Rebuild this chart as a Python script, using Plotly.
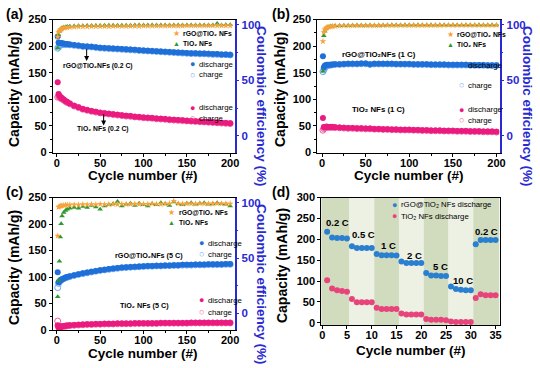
import plotly.graph_objects as go

# ---------------- data ----------------
cyc = [1, 2, 3, 4, 5, 6, 8, 10, 12, 15,
       20, 25, 30, 35, 40, 45, 50, 55, 60, 65,
       70, 75, 80, 85, 90, 95, 100, 105, 110, 115,
       120, 125, 130, 135, 140, 145, 150, 155, 160, 165,
       170, 175, 180, 185, 190, 195, 200]

# (a) 0.2 C
a_rgo_dis = [218, 207, 206, 206, 206, 205, 205, 204, 204, 203,
             202, 201, 200, 199.5, 199, 198, 197, 196.5, 196, 195.5,
             195, 194.5, 194, 193.5, 193, 192.5, 192, 191.5, 191, 190.5,
             190, 189.5, 189, 188.5, 188, 187.5, 187, 186.5, 186.5, 186,
             186, 185.5, 185, 185, 184.5, 184.5, 184]
a_rgo_chg = [196, 198, 201, 202, 203, 203, 203.5, 203, 203, 202.5,
             201.5, 200.5, 199.5, 199, 198.5, 197.5, 196.5, 196, 195.5, 195,
             194.5, 194, 193.5, 193, 192.5, 192, 191.5, 191, 190.5, 190,
             189.5, 189, 188.5, 188, 187.5, 187, 186.5, 186, 186, 185.5,
             185.5, 185, 184.5, 184.5, 184, 184, 183.5]
a_tio_dis = [132, 110, 107, 105, 103, 102, 99.5, 97, 95, 92,
             88, 85, 82, 80, 78, 76.5, 75, 74, 73, 72,
             71, 70, 69, 68.5, 67.5, 67, 66, 65.5, 65, 64,
             63.5, 63, 62, 61.5, 61, 60.5, 60, 59.5, 59, 58.5,
             58, 57.5, 57, 56.5, 56, 55.5, 55]
a_tio_chg = [104, 106, 104.5, 103, 101.5, 100.5, 98.5, 96, 94, 91.5,
             87.5, 84.5, 81.5, 79.5, 77.5, 76, 74.5, 73.5, 72.5, 71.5,
             70.5, 69.5, 68.5, 68, 67, 66.5, 65.5, 65, 64.5, 63.5,
             63, 62.5, 61.5, 61, 60.5, 60, 59.5, 59, 58.5, 58,
             57.5, 57, 56.5, 56, 55.5, 55, 54.5]
a_rgo_ce = [89, 93, 94.5, 95.5, 96, 96.5, 97, 97.3, 97.5, 97.8,
            98, 98.2, 98.3, 98.3, 98.4, 98.4, 98.5, 98.5, 98.5, 98.6,
            98.6, 98.6, 98.7, 98.7, 98.7, 98.7, 98.8, 98.8, 98.8, 98.8,
            98.8, 98.9, 98.9, 98.9, 98.9, 98.9, 99, 99, 99, 99,
            99, 99, 99, 99.1, 99.1, 99.1, 99.1]
a_tio_ce = [79, 91, 94, 95.5, 96.5, 97, 97.6, 98, 98.3, 98.6,
            98.8, 99, 99.1, 99.2, 99.2, 99.3, 99.3, 99.4, 99.4, 99.4,
            99.5, 99.5, 99.5, 99.5, 99.6, 99.6, 99.6, 99.6, 99.6, 99.7,
            99.7, 99.7, 99.7, 99.7, 99.7, 99.8, 99.8, 99.8, 99.8, 99.8,
            99.8, 99.8, 99.8, 101, 99.8, 99.9, 99.9]

# (b) 1 C
b_rgo_dis = [181, 160, 163, 164, 164.5, 165, 165, 165, 165.5, 166,
             166, 166.5, 167, 167, 167, 167.5, 167.5, 166, 167, 167,
             167, 167, 167, 166.5, 166.5, 166.5, 166.5, 166, 166, 166,
             166, 165.5, 165.5, 165.5, 165.5, 165, 165, 165, 165, 165,
             164.5, 164.5, 164.5, 164.5, 164, 164, 164]
b_rgo_chg = [152, 155, 159, 161, 162.5, 163.5, 164, 164.5, 165, 165.5,
             165.5, 166, 166.5, 166.5, 166.5, 167, 167, 165.5, 166.5, 166.5,
             166.5, 166.5, 166.5, 166, 166, 166, 166, 165.5, 165.5, 165.5,
             165.5, 165, 165, 165, 165, 164.5, 164.5, 164.5, 164.5, 164.5,
             164, 164, 164, 164, 163.5, 163.5, 163.5]
b_tio_dis = [65, 48, 48, 48.5, 48.5, 48.5, 48, 48, 48, 47.5,
             47, 46.5, 46, 46, 45.5, 45.5, 45, 45, 44.5, 44.5,
             44, 44, 43.5, 43.5, 43, 43, 43, 42.5, 42.5, 42,
             42, 41.5, 41.5, 41.5, 41, 41, 41, 40.5, 40.5, 40.5,
             40, 40, 40, 39.5, 39.5, 39.5, 39]
b_tio_chg = [42, 45, 46.5, 47, 47.5, 47.5, 47.5, 47.5, 47.5, 47,
             46.5, 46, 45.5, 45.5, 45, 45, 44.5, 44.5, 44, 44,
             43.5, 43.5, 43, 43, 42.5, 42.5, 42.5, 42, 42, 41.5,
             41.5, 41, 41, 41, 40.5, 40.5, 40.5, 40, 40, 40,
             39.5, 39.5, 39.5, 39, 39, 39, 38.5]
b_rgo_ce = [85, 93, 95.5, 96.5, 97.2, 97.6, 98, 98.3, 98.5, 98.7,
            98.9, 99, 99, 99.1, 99.1, 99.1, 99.2, 99.2, 99.2, 99.2,
            99.3, 99.3, 99.3, 99.3, 99.3, 99.3, 99.4, 99.4, 99.4, 99.4,
            99.4, 99.4, 99.4, 99.4, 99.5, 99.5, 99.5, 99.5, 99.5, 99.5,
            99.5, 99.5, 99.5, 99.5, 99.5, 99.5, 99.5]
b_tio_ce = [58, 90, 94, 96, 97, 97.6, 98.2, 98.6, 98.8, 99,
            99.2, 99.3, 99.3, 99.4, 99.4, 99.4, 99.5, 99.5, 99.5, 99.5,
            99.5, 99.6, 99.6, 99.6, 99.6, 99.6, 99.6, 99.6, 99.7, 99.7,
            99.7, 99.7, 99.7, 99.7, 99.7, 99.7, 99.8, 99.8, 99.8, 99.8,
            99.8, 99.8, 99.8, 99.8, 99.8, 99.8, 99.8]

# (c) 5 C
c_rgo_dis = [109, 90, 92, 93.5, 95, 96, 97.5, 99, 100, 101.5,
             103.5, 105.5, 107, 108.5, 110, 111.5, 113, 114, 115, 116,
             117, 118, 118.5, 119, 119.5, 120, 120.5, 121, 121, 121.5,
             121.5, 122, 122, 122.5, 122.5, 123, 123, 123, 123.5, 123.5,
             123.5, 124, 124, 124, 124, 124.5, 124.5]
c_rgo_chg = [80, 88, 91, 93, 94.5, 95.5, 97, 98.5, 99.5, 101,
             103, 105, 106.5, 108, 109.5, 111, 112.5, 113.5, 114.5, 115.5,
             116.5, 117.5, 118, 118.5, 119, 119.5, 120, 120.5, 120.5, 121,
             121, 121.5, 121.5, 122, 122, 122.5, 122.5, 122.5, 123, 123,
             123, 123.5, 123.5, 123.5, 123.5, 124, 124]
c_tio_dis = [9, 5, 5.5, 6, 6.5, 7, 7.5, 8, 8.5, 9,
             9.5, 10, 10.5, 11, 11, 11.5, 11.5, 12, 12, 12,
             12.5, 12.5, 12.5, 12.5, 13, 13, 13, 13, 13, 13,
             13.5, 13.5, 13.5, 13.5, 13.5, 13.5, 13.5, 14, 14, 14,
             14, 14, 14, 14, 14, 14, 14]
c_tio_chg = [17, 6, 5.5, 6, 6.5, 6.5, 7, 7.5, 8, 8.5,
             9, 9.5, 10, 10.5, 10.5, 11, 11, 11.5, 11.5, 11.5,
             12, 12, 12, 12, 12.5, 12.5, 12.5, 12.5, 12.5, 12.5,
             13, 13, 13, 13, 13, 13, 13, 13.5, 13.5, 13.5,
             13.5, 13.5, 13.5, 13.5, 13.5, 13.5, 13.5]
c_rgo_ce = [70, 96, 96.5, 97, 97, 97.5, 97.5, 97.8, 98, 98,
            98.2, 98, 98.4, 98.2, 98.5, 98.3, 98.6, 98.4, 98.5, 98.7,
            98.5, 98.8, 98.6, 98.7, 98.9, 98.6, 98.8, 98.7, 99, 98.8,
            98.7, 98.9, 99.2, 101.5, 99, 98.9, 99.1, 99, 98.9, 99.2,
            99, 99.1, 98.9, 99.2, 99, 99.1, 99]
c_tio_ce = [15, 30, 47, 69, 81, 88, 91, 93, 94, 95,
            95.5, 95, 96.5, 95.5, 97.5, 96, 94, 97, 98, 99,
            101, 97, 98.5, 99.5, 97.5, 99.5, 98, 97, 99, 98,
            100, 99, 97.5, 100.5, 99, 98, 99.5, 100, 98.5, 99.5,
            100, 98.5, 99, 100, 99, 98.5, 97]

# (d) rate capability
d_cyc = list(range(1, 36))
d_rgo = [218, 204, 203, 203, 202, 183, 179, 179, 179, 179,
         165, 162, 162, 162, 161, 147, 143, 143, 143, 143,
         119, 113, 113, 112, 112, 87, 81, 79, 78, 78,
         188, 198, 198, 198, 198]
d_tio = [102, 82, 78, 76, 74, 57, 49, 49, 49, 49,
         36, 33, 33, 33, 33, 22, 20, 20, 20, 20,
         9, 7, 7, 7, 6, 3, 2, 2, 2, 2,
         59, 68, 66, 66, 66]
rate_labels = ["0.2 C", "0.5 C", "1 C", "2 C", "5 C", "10 C", "0.2 C"]
rate_label_x = [3.1, 8.3, 13.4, 18.6, 23.8, 28.4, 33.2]
rate_label_y = [240, 212, 186, 161, 135, 102, 218]
cycles_per_rate = 5

# ---------------- style ----------------
FONT = "Liberation Sans, Arial, sans-serif"
W, H = 540, 368
BLUE = "#1f6fd8"
BLUE_L = "#6ea8f2"
PINK = "#ea1a7f"
PINK_L = "#ef5ea3"
ORANGE = "#f7a23a"
GREEN = "#2e9a2e"
AXB = "#2a2ad2"
D_BLUE = "#2a7fd0"
D_PINK = "#e8447c"


def px(x):
    return x / W


def py(y):
    return 1 - y / H


fig = go.Figure()

panels = [
    ("x", "y", "y5", a_rgo_dis, a_rgo_chg, a_tio_dis, a_tio_chg, a_rgo_ce, a_tio_ce),
    ("x2", "y2", "y6", b_rgo_dis, b_rgo_chg, b_tio_dis, b_tio_chg, b_rgo_ce, b_tio_ce),
    ("x3", "y3", "y7", c_rgo_dis, c_rgo_chg, c_tio_dis, c_tio_chg, c_rgo_ce, c_tio_ce),
]
for xa, ya, yr_, rd, rc, td, tc, rce, tce in panels:
    fig.add_trace(go.Scatter(x=cyc, y=tc, mode="markers", xaxis=xa, yaxis=ya,
                             marker=dict(symbol="circle-open", size=6, color=PINK_L, line=dict(width=1))))
    fig.add_trace(go.Scatter(x=cyc, y=td, mode="markers", xaxis=xa, yaxis=ya,
                             marker=dict(symbol="circle", size=6, color=PINK)))
    fig.add_trace(go.Scatter(x=cyc, y=rc, mode="markers", xaxis=xa, yaxis=ya,
                             marker=dict(symbol="circle-open", size=6, color=BLUE_L, line=dict(width=1))))
    fig.add_trace(go.Scatter(x=cyc, y=rd, mode="markers", xaxis=xa, yaxis=ya,
                             marker=dict(symbol="circle", size=6, color=BLUE)))
    fig.add_trace(go.Scatter(x=cyc, y=tce, mode="markers", xaxis=xa, yaxis=yr_,
                             marker=dict(symbol="triangle-up", size=5, color=GREEN)))
    fig.add_trace(go.Scatter(x=cyc, y=rce, mode="markers", xaxis=xa, yaxis=yr_,
                             marker=dict(symbol="star", size=5, color=ORANGE)))

fig.add_trace(go.Scatter(x=d_cyc, y=d_rgo, mode="markers", xaxis="x4", yaxis="y4",
                         marker=dict(symbol="circle", size=6, color=D_BLUE)))
fig.add_trace(go.Scatter(x=d_cyc, y=d_tio, mode="markers", xaxis="x4", yaxis="y4",
                         marker=dict(symbol="circle", size=6, color=D_PINK)))

tickfont = dict(family=FONT, size=11, color="black", weight="bold")


def xax(domain, rng, dtick, minor, anchor):
    d = dict(domain=domain, range=rng, dtick=dtick, tick0=0, anchor=anchor,
             showline=True, linecolor="black", linewidth=1, mirror=True,
             ticks="outside", ticklen=3, tickcolor="black", tickwidth=1,
             ticklabelstandoff=-3,
             showgrid=False, zeroline=False, tickfont=tickfont)
    if minor:
        d["minor"] = dict(dtick=minor, tick0=0, ticks="outside", ticklen=2, tickcolor="black")
    return d


def yax(domain, rng, dtick, minor, anchor, mirror=False):
    d = dict(domain=domain, range=rng, dtick=dtick, tick0=0, anchor=anchor,
             showline=True, linecolor="black", linewidth=1, mirror=mirror,
             ticks="outside", ticklen=3, tickcolor="black", tickwidth=1,
             showgrid=False, zeroline=False, tickfont=tickfont)
    if minor:
        d["minor"] = dict(dtick=minor, tick0=0, ticks="outside", ticklen=2, tickcolor="black")
    return d


def yr(over, anchor):
    return dict(overlaying=over, anchor=anchor, side="right", range=[-15, 104.6],
                tickvals=[0, 50, 100], showline=True, linecolor=AXB, linewidth=1.5,
                ticks="outside", ticklen=3, tickcolor=AXB, showgrid=False, zeroline=False,
                tickfont=dict(family=FONT, size=11.5, color=AXB, weight="bold"),
                minor=dict(tickvals=[25, 75], ticks="outside", ticklen=2, tickcolor=AXB))


XA = [px(51.7), px(236)]
XB = [px(320), px(505)]
XD = [px(324), px(505)]
YT = [py(151.5), py(14)]
YC = [py(335), py(198)]
YD = [py(330), py(198)]

fig.update_layout(
    width=W, height=H, margin=dict(l=0, r=0, t=0, b=0),
    paper_bgcolor="white", plot_bgcolor="white", showlegend=False,
    font=dict(family=FONT, color="black"),
    xaxis=xax(XA, [-4.5, 205], 50, 25, "y"),
    yaxis=yax(YT, [0, 250], 50, 25, "x"),
    xaxis2=xax(XB, [-5.5, 203.5], 50, 25, "y2"),
    yaxis2=yax(YT, [0, 250], 50, 25, "x2"),
    xaxis3=xax(XA, [-4.5, 205], 50, 25, "y3"),
    yaxis3=yax(YC, [0, 250], 50, 25, "x3"),
    xaxis4=xax(XD, [-0.2, 35.8], 5, None, "y4"),
    yaxis4=yax(YD, [-6, 300], 50, None, "x4", mirror=True),
    yaxis5=yr("y", "x"),
    yaxis6=yr("y2", "x2"),
    yaxis7=yr("y3", "x3"),
)

# background bands of panel (d), one per rate step
n_groups = len(rate_labels)
band_cols = ["#d1dbbd", "#edf1e4"]
for i in range(n_groups):
    x0 = -0.2 if i == 0 else i * cycles_per_rate + 0.5
    x1 = 35.8 if i == n_groups - 1 else (i + 1) * cycles_per_rate + 0.5
    fig.add_shape(type="rect", xref="x4", yref="y4 domain", x0=x0, x1=x1, y0=0, y1=1,
                  fillcolor=band_cols[i % 2], line=dict(width=0), layer="below")

ann = []


def txt(xp, yp, text, size, angle=0, color="black", xanchor="center"):
    ann.append(dict(xref="paper", yref="paper", x=px(xp), y=py(yp), text=text,
                    showarrow=False, textangle=angle, xanchor=xanchor, yanchor="middle",
                    font=dict(family=FONT, size=size, color=color)))


# panel letters
txt(2, 8, "<b>(a)</b>", 14, xanchor="left")
txt(272, 8, "<b>(b)</b>", 14, xanchor="left")
txt(2, 192, "<b>(c)</b>", 14, xanchor="left")
txt(272, 192, "<b>(d)</b>", 14, xanchor="left")

# axis titles
for ox, oy in [(0, 0), (270, 0), (0, 184)]:
    txt(12 + ox, 86 + oy, "<b>Capacity (mAh/g)</b>", 14, angle=-90)
    txt(143 + ox, 175 + oy, "<b>Cycle number (#)</b>", 13.5)
    txt(263.5 + ox, 104 + oy, "<b>Coulombic efficiency (%)</b>", 13.5, angle=90, color=AXB)
txt(284, 268, "<b>Capacity (mAh/g)</b>", 14, angle=-90)
txt(415, 356, "<b>Cycle number (#)</b>", 13.5)


def leg(gx, yp, glyph, gcol, label, gsize, tsize):
    txt(gx, yp, glyph, gsize, color=gcol)
    txt(gx + 5, yp, label, tsize, xanchor="left")


RGO = "rGO@TiO₂ NFs"
TIO = "TiO₂ NFs"
# (a) legends
leg(177, 28, "★", ORANGE, f"<b>{RGO}</b>", 8, 6.8)
leg(177, 39, "▲", GREEN, f"<b>{TIO}</b>", 7, 6.8)
leg(193, 60, "●", BLUE, "discharge", 9, 7.8)
leg(193, 71, "○", BLUE_L, "charge", 9, 7.8)
leg(193, 105, "●", PINK, "discharge", 9, 7.8)
leg(193, 116, "○", PINK_L, "charge", 9, 7.8)
# (b) legends
leg(455, 29, "★", ORANGE, f"<b>{RGO}</b>", 8, 6.8)
leg(455, 40, "▲", GREEN, f"<b>{TIO}</b>", 7, 6.8)
leg(466, 61.5, "●", BLUE, "discharge", 9, 7.8)
leg(466, 82, "○", BLUE_L, "charge", 9, 7.8)
leg(466, 107, "●", PINK, "discharge", 9, 7.8)
leg(466, 118, "○", PINK_L, "charge", 9, 7.8)
# (c) legends
leg(172.5, 213, "★", ORANGE, f"<b>{RGO}</b>", 8, 6.8)
leg(172.5, 224, "▲", GREEN, f"<b>{TIO}</b>", 7, 6.8)
leg(202, 245, "●", BLUE, "discharge", 9, 7.8)
leg(202, 256.7, "○", BLUE_L, "charge", 9, 7.8)
leg(202, 304, "●", PINK, "discharge", 9, 7.8)
leg(202, 316.7, "○", PINK_L, "charge", 9, 7.8)
# (d) legend
leg(398, 205.7, "●", D_BLUE, f"{RGO} discharge", 9, 7.8)
leg(398, 217.3, "●", D_PINK, f"{TIO} discharge", 9, 7.8)


def dlabel(xa, ya, x, y, text, size):
    ann.append(dict(xref=xa, yref=ya, x=x, y=y, text=f"<b>{text}</b>", showarrow=False,
                    font=dict(family=FONT, size=size, color="black")))


dlabel("x", "y", 47, 163, "rGO@TiO₂NFs (0.2 C)", 6.8)
dlabel("x", "y", 53, 44, "TiO₂ NFs (0.2 C)", 6.8)
dlabel("x2", "y2", 65, 183.5, "rGO@TiO₂NFs (1 C)", 7.8)
dlabel("x2", "y2", 65, 80, "TiO₂ NFs (1 C)", 7.8)
dlabel("x3", "y3", 106, 140.5, "rGO@TiO₂NFs (5 C)", 7.2)
dlabel("x3", "y3", 101, 45.6, "TiO₂ NFs (5 C)", 7.2)
for lx, ly, lt in zip(rate_label_x, rate_label_y, rate_labels):
    dlabel("x4", "y4", lx, ly, lt, 9.5)

# arrows in (a)
for x0, ytail, yhead in [(34.4, 197, 172), (54, 75, 51)]:
    ann.append(dict(xref="x", yref="y", x=x0, y=yhead, ax=x0, ay=ytail, axref="x", ayref="y",
                    text="", showarrow=True, arrowhead=2, arrowsize=1, arrowwidth=1,
                    arrowcolor="black"))

fig.update_layout(annotations=ann)
fig.write_html("out.html")
